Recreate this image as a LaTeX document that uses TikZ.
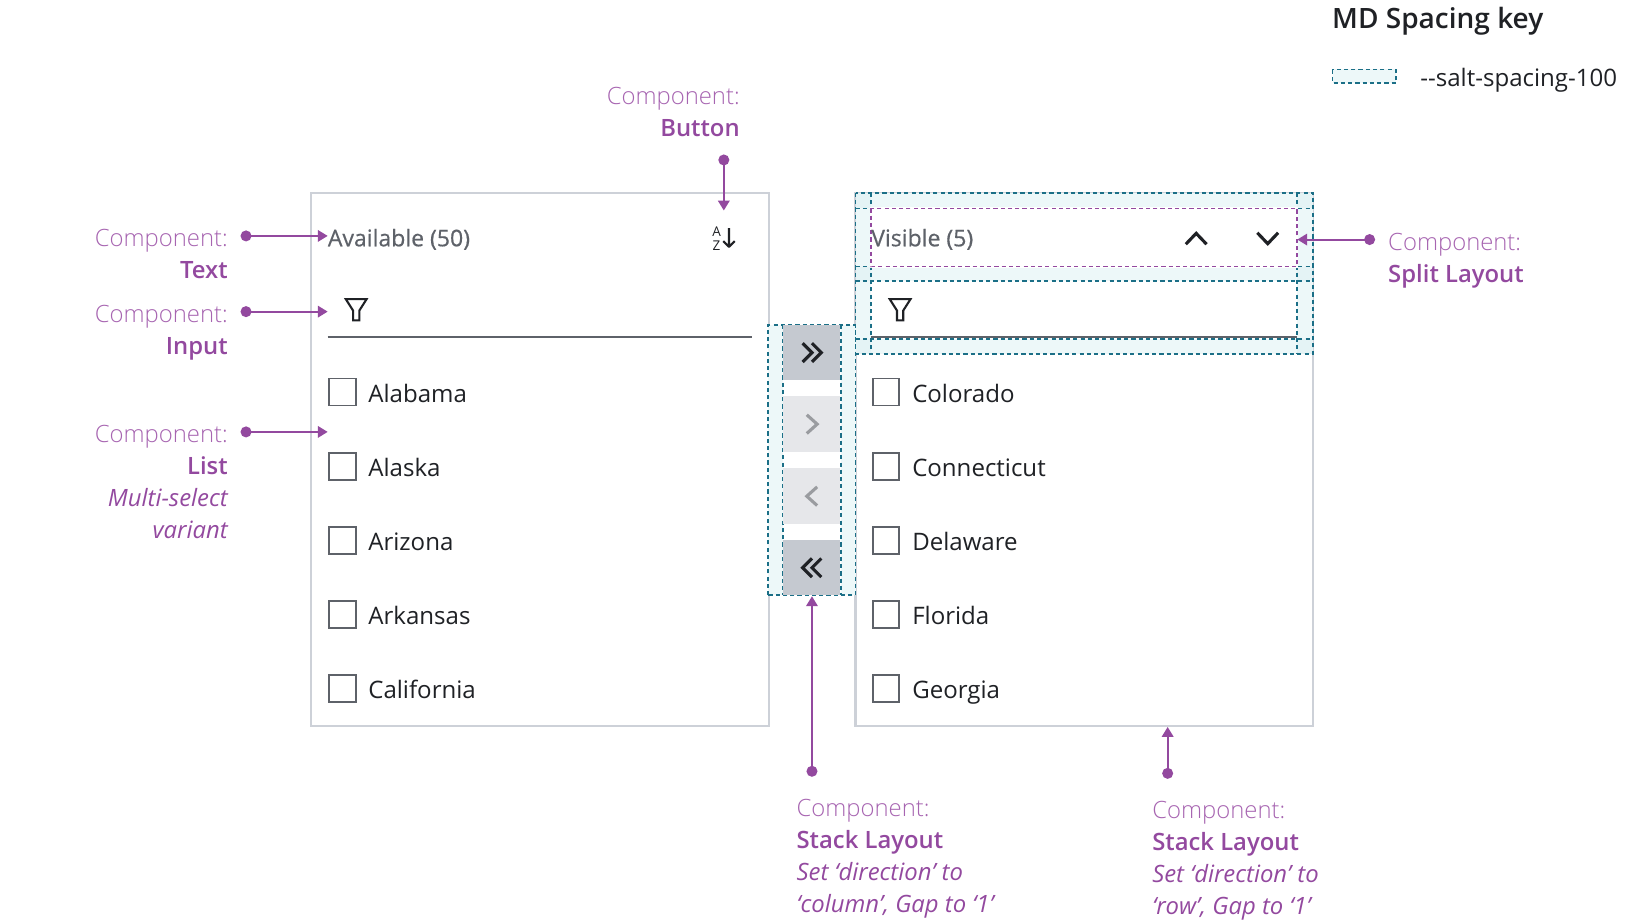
\documentclass[tikz,border=0pt]{standalone}
\usepackage{fontspec}
\setmainfont{Open Sans}
\newfontfamily\oslight{Open Sans Light}
\newfontfamily\ossemi{Open Sans Semibold}
\newfontfamily\osmed[FakeBold=0.5]{Open Sans}
\usetikzlibrary{arrows.meta}
\definecolor{pur}{HTML}{93499F}
\definecolor{purl}{HTML}{A765B1}
\definecolor{tealb}{HTML}{1B6F87}
\definecolor{tealf}{HTML}{EDF8F9}
\definecolor{tealc}{HTML}{E4F3F5}
\definecolor{panel}{HTML}{CDD1D8}
\definecolor{grayt}{HTML}{5E6269}
\definecolor{ink}{HTML}{1F2125}
\definecolor{btnd}{HTML}{C5C9D0}
\definecolor{btnl}{HTML}{E6E7EA}
\definecolor{chev}{HTML}{9A9CA0}
\tikzset{
 panelbox/.style={draw=panel,line width=2pt,fill=white},
 spc/.style={draw=tealb,line width=1.8pt,dash pattern=on 4pt off 3pt},
 spcp/.style={draw=pur,line width=1.8pt,dash pattern=on 4pt off 3pt},
 check/.style={draw=grayt,line width=1.8pt,fill=white},
 item/.style={anchor=base west,font=\fontsize{23.2}{24}\selectfont,text=ink,inner sep=0pt},
 headt/.style={anchor=base west,font=\osmed\fontsize{22.2}{24}\selectfont,text=grayt,inner sep=0pt},
 lab/.style={font=\oslight\fontsize{23}{24}\selectfont,text=purl,inner sep=0pt},
 labb/.style={font=\fontsize{23}{24}\selectfont\ossemi,text=pur,inner sep=0pt},
 labi/.style={font=\fontsize{23}{24}\selectfont\itshape,text=pur,inner sep=0pt},
 lnk/.style={draw=pur,line width=2pt,{Circle[length=10.5pt,width=10.5pt]}-{Triangle[length=9.5pt,width=11pt]},fill=pur},
 icon/.style={draw=ink,line width=3pt,line join=miter,fill=none},
 iconl/.style={draw=chev,line width=3pt,line join=miter,fill=none},
 funnel/.style={draw=ink,line width=2pt,line join=miter,fill=none},
}
\begin{document}
\begin{tikzpicture}[x=1pt,y=-1pt]
\useasboundingbox (0,0) rectangle (1568,887.2);
% panels
\draw[panelbox] (300,186) rectangle (741.5,700.5);
\draw[panelbox] (825,186) rectangle (1266,700.5);
% middle spacing
\fill[tealf] (741,313) rectangle (825,574);
\fill[white] (755,313) rectangle (811,574);
\draw[spc] (741,574) -- (741,313) -- (825,313) -- (825,574) -- cycle;
\draw[spc] (755,313) -- (755,574);
\draw[spc] (811,313) -- (811,574);
\fill[btnd] (755.5,313) rectangle (810.5,366);
\fill[btnl] (755.5,382) rectangle (810.5,436);
\fill[btnl] (755.5,451.5) rectangle (810.5,505);
\fill[btnd] (755.5,521) rectangle (810.5,574);
% chevrons
\draw[icon] (774,331) -- (783,340) -- (774,349) (783,331) -- (792,340) -- (783,349);
\draw[iconl] (778,400) -- (788,409) -- (778,418);
\draw[iconl] (788,469.5) -- (778,478.5) -- (788,487.5);
\draw[icon] (792,538.5) -- (783,547.5) -- (792,556.5) (783,538.5) -- (774,547.5) -- (783,556.5);
% right header spacing
\fill[tealf] (825,186) rectangle (1266,341);
\fill[tealc] (825,186) rectangle (840,201);
\fill[tealc] (1251,186) rectangle (1266,201);
\fill[tealc] (825,257) rectangle (840,271);
\fill[tealc] (1251,257) rectangle (1266,271);
\fill[tealc] (825,327) rectangle (840,341);
\fill[tealc] (1251,327) rectangle (1266,341);
\fill[white] (840,201) rectangle (1251,257);
\fill[white] (840,271) rectangle (1251,327);
\draw[spc] (825,186) rectangle (1266,341);
\draw[spc] (840,186) -- (840,341);
\draw[spc] (1251,186) -- (1251,341);
\draw[spc] (825,201) -- (1266,201);
\draw[spc] (825,257) -- (1266,257);
\draw[spc] (825,271) -- (1266,271);
\draw[spc] (825,327) -- (1266,327);
\draw[draw=white,line width=2pt] (840,201) rectangle (1251,257);
\draw[spcp] (840,201) rectangle (1251,257);
% headers
\node[headt] (avail) at (316,237.5) {Available (50)};
\node[headt] (vis) at (840,237.5) {Visible (5)};
% sort icon
\node[font=\fontsize{13}{13}\selectfont,text=ink,inner sep=0pt] (aza) at (691,223.5) {A};
\node[font=\fontsize{13}{13}\selectfont,text=ink,inner sep=0pt] (azz) at (691,236.5) {Z};
\draw[draw=ink,line width=2pt,line join=round] (703,220) -- (703,238) (697.5,232.5) -- (703,238) -- (708.5,232.5);
\draw[icon] (1143.5,235.5) -- (1153.5,225) -- (1163.5,235.5);
\draw[icon] (1212.5,224.5) -- (1222.5,235) -- (1232.5,224.5);
% inputs
\draw[draw=grayt,line width=1.6pt] (316,324.8) -- (725,324.8);
\draw[draw=grayt,line width=1.6pt] (840,324.8) -- (1251,324.8);
\draw[funnel] (333.5,288.5) -- (353.5,288.5) -- (346.5,299.5) -- (346.5,309) -- (340.5,309) -- (340.5,299.5) -- cycle;
\draw[funnel] (858,288.5) -- (878,288.5) -- (871,299.5) -- (871,309) -- (865,309) -- (865,299.5) -- cycle;
% list items
\foreach \yy/\a/\b in {378/Alabama/Colorado,449.5/Alaska/Connecticut,521/Arizona/Delaware,592.3/Arkansas/Florida,663.6/California/Georgia}{
 \draw[check] (317,\yy-13) rectangle (343,\yy+13);
 \draw[check] (842,\yy-13) rectangle (867,\yy+13);
 \node[item] at (355,\yy+9.8) {\a};
 \node[item] at (879.5,\yy+9.8) {\b};
}
% labels
\node[lab,anchor=base east] (t1) at (219.8,238) {Component:};
\node[labb,anchor=base east] (t1b) at (219.8,269) {Text};
\node[lab,anchor=base east] (t2) at (219.8,311) {Component:};
\node[labb,anchor=base east] (t2b) at (219.8,342) {Input};
\node[lab,anchor=base east] (t3) at (219.8,427) {Component:};
\node[labb,anchor=base east] (t3b) at (219.8,458) {List};
\node[labi,anchor=base east] (t3c) at (219.8,488) {Multi-select};
\node[labi,anchor=base east] (t3d) at (219.8,519) {variant};
\node[lab,anchor=base east] (t4) at (713.5,101) {Component:};
\node[labb,anchor=base east] (t4b) at (713.5,132) {Button};
\node[lab,anchor=base west] (t5) at (768,787) {Component:};
\node[labb,anchor=base west] (t5b) at (768,818) {Stack Layout};
\node[labi,anchor=base west] (t5c) at (768,849) {Set ‘direction’ to};
\node[labi,anchor=base west] (t5d) at (768,880) {‘column’, Gap to ‘1’};
\node[lab,anchor=base west] (t6) at (1111,789) {Component:};
\node[labb,anchor=base west] (t6b) at (1111,820) {Stack Layout};
\node[labi,anchor=base west] (t6c) at (1111,851) {Set ‘direction’ to};
\node[labi,anchor=base west] (t6d) at (1111,882) {‘row’, Gap to ‘1’};
\node[lab,anchor=base west] (t7) at (1338.5,242) {Component:};
\node[labb,anchor=base west] (t7b) at (1338.5,272.5) {Split Layout};
% connectors
\coordinate (a1) at (232,227.5); \coordinate (b1) at (316,227.5);
\coordinate (a2) at (232,300.5); \coordinate (b2) at (316,300.5);
\coordinate (a3) at (232,416.5); \coordinate (b3) at (316,416.5);
\coordinate (a4) at (698,149); \coordinate (b4) at (698,203);
\coordinate (a5) at (783,749); \coordinate (b5) at (783,575);
\coordinate (a6) at (1126,751); \coordinate (b6) at (1126,701);
\coordinate (a7) at (1326,231); \coordinate (b7) at (1251,231);
\foreach \n in {1,...,7}{\draw[lnk] (a\n) -- (b\n);}
% key
\node[font=\fontsize{27}{28}\selectfont\ossemi,text=ink,anchor=base west,inner sep=0pt] (k) at (1284.5,27) {MD Spacing key};
\fill[tealf] (1285,67) rectangle (1346,80);
\draw[spc] (1285,67) rectangle (1346,80);
\node[font=\fontsize{23.2}{24}\selectfont,text=ink,anchor=base west,inner sep=0pt] (ks) at (1369.5,83) {-{}-salt-spacing-100};
\end{tikzpicture}
\end{document}
